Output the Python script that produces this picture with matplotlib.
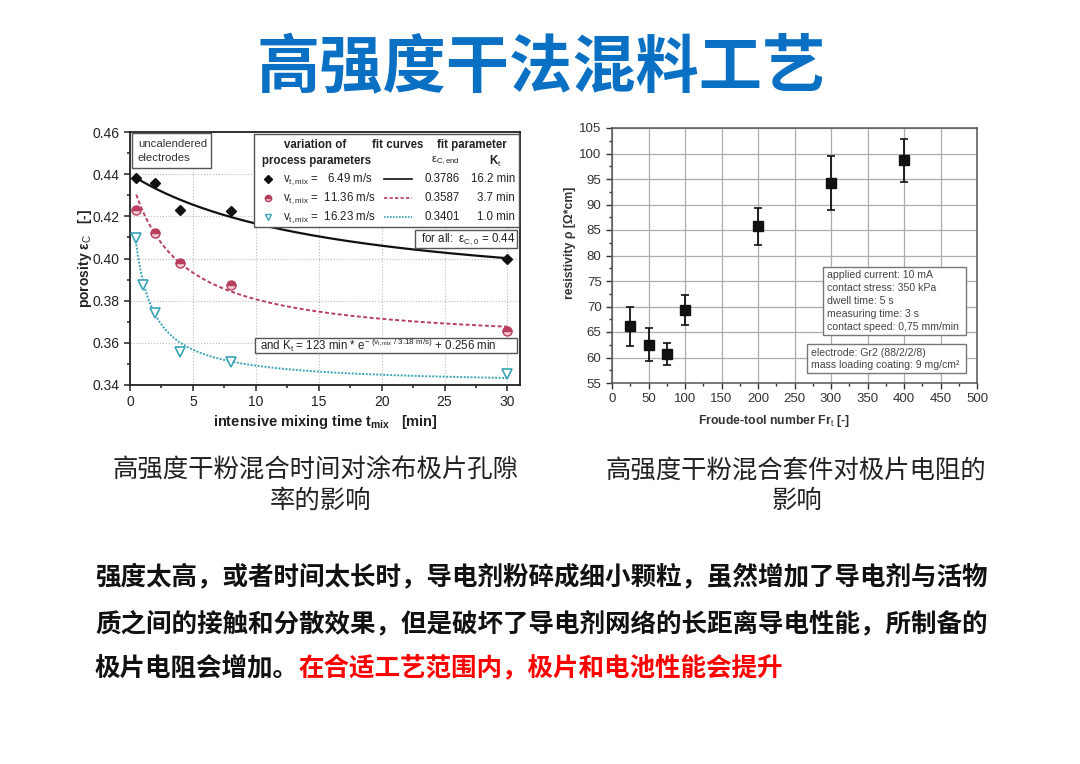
import numpy as np
import matplotlib
matplotlib.use('Agg')
import matplotlib.pyplot as plt
from matplotlib.patches import Rectangle
from matplotlib.ticker import MultipleLocator

plt.rcParams['font.family'] = ['Liberation Sans', 'DejaVu Sans']
plt.rcParams['mathtext.fontset'] = 'custom'
plt.rcParams['mathtext.rm'] = 'Liberation Sans'
plt.rcParams['mathtext.it'] = 'Liberation Sans:italic'
plt.rcParams['mathtext.bf'] = 'Liberation Sans:bold'
CJK = ['Noto Sans CJK SC', 'DejaVu Sans']

# ---- left chart: porosity vs mixing time ----
t_black = [0.5, 2, 4, 8, 30]
eps_black = [0.438, 0.436, 0.4228, 0.4224, 0.3998]
t_red = [0.5, 2, 4, 8, 30]
eps_red = [0.4232, 0.4123, 0.3981, 0.3876, 0.3658]
t_cyan = [0.5, 1, 2, 4, 8, 30]
eps_cyan = [0.4098, 0.3874, 0.3740, 0.3557, 0.3507, 0.3452]

v_labels = ['6.49', '11.36', '16.23']
eps_end = [0.3786, 0.3587, 0.3401]
K_t = [16.2, 3.7, 1.0]
eps_0 = 0.44

# ---- right chart: resistivity vs Froude number ----
froude = [25, 50, 75, 100, 200, 300, 400]
resist = [66.1, 62.5, 60.6, 69.3, 85.7, 94.2, 98.7]
err_low = [62.2, 59.3, 58.5, 66.4, 82.0, 88.9, 94.5]
err_high = [70.0, 65.7, 62.8, 72.2, 89.4, 99.5, 102.8]

fig = plt.figure(figsize=(10.8, 7.64), dpi=100)
W, H = 1080, 764

def ax_rect(x0, y0, x1, y1):
    return [x0 / W, 1 - y1 / H, (x1 - x0) / W, (y1 - y0) / H]

fig.text(541 / W, 1 - 69 / H, '高强度干法混料工艺', family=CJK, fontsize=45.5,
         fontweight='bold', color='#0a70c4', ha='center', va='center')

# ================= left =================
ax1 = fig.add_axes(ax_rect(130, 132, 520, 385))
col_k, col_r, col_c = '#111111', '#b8405e', '#3aa3b5'

tt = np.linspace(0.5, 30, 300)
fit_styles = [(col_k, '-', 1.6), (col_r, (0, (2, 1.3)), 1.4), (col_c, (0, (1, 0.8)), 1.4)]
for e_end, k, (c, ls, lw) in zip(eps_end, K_t, fit_styles):
    ax1.plot(tt, e_end + (eps_0 - e_end) * k / (k + tt), color=c, ls=ls, lw=lw, zorder=2)

ax1.plot(t_black, eps_black, 'D', color=col_k, ms=5.5, zorder=3)
ax1.plot(t_red, eps_red, 'o', ms=6.5, fillstyle='top', mfc=col_r, mfcalt='#f3c8d2',
         mec=col_r, mew=1, zorder=3)
ax1.plot(t_cyan, eps_cyan, 'v', ms=6.5, mfc='white', mec=col_c, mew=1.2, zorder=3)

ax1.set_xlim(0, 31)
ax1.set_ylim(0.34, 0.46)
ax1.xaxis.set_major_locator(MultipleLocator(5))
ax1.xaxis.set_minor_locator(MultipleLocator(2.5))
ax1.yaxis.set_major_locator(MultipleLocator(0.02))
ax1.yaxis.set_minor_locator(MultipleLocator(0.01))
ax1.yaxis.set_major_formatter(plt.FuncFormatter(lambda v, p: '%.2f' % v))
ax1.grid(True, which='major', ls=':', color='#bbbbbb', lw=0.8)
ax1.tick_params(which='both', direction='out', labelsize=10, width=1.1, colors='#222222')
ax1.tick_params(which='major', length=4)
ax1.tick_params(which='minor', length=2.5)
for s in ax1.spines.values():
    s.set_linewidth(1.3)
    s.set_color('#222222')
ax1.set_xlabel(r'intensive mixing time t$_\mathbf{mix}$   [min]', fontsize=10.5,
               fontweight='bold', color='#222222')
ax1.xaxis.set_label_coords(0.5, -0.112)
ax1.set_ylabel(r'porosity ε$_\mathrm{C}$   [-]', fontsize=10, fontweight='bold', color='#222222')
ax1.yaxis.set_label_coords(-0.092, 0.5)

def box(ax, x0, y0, x1, y1, ec='#555555'):
    ax.add_patch(Rectangle((x0, y0), x1 - x0, y1 - y0, transform=ax.transAxes, fc='white',
                           ec=ec, lw=1.0, zorder=5, clip_on=False))

tr = ax1.transAxes
box(ax1, 0.005, 0.858, 0.207, 0.996)
ax1.text(0.020, 0.953, 'uncalendered', transform=tr, fontsize=8.2, color='#333333', va='center', zorder=6)
ax1.text(0.020, 0.897, 'electrodes', transform=tr, fontsize=8.2, color='#333333', va='center', zorder=6)

box(ax1, 0.318, 0.625, 0.997, 0.992)
hk = dict(transform=tr, fontsize=8.3, fontweight='bold', color='#222222', va='center', ha='center', zorder=6)
ax1.text(0.474, 0.949, 'variation of', **hk)
ax1.text(0.687, 0.949, 'fit curves', **hk)
ax1.text(0.877, 0.949, 'fit parameter', **hk)
ax1.text(0.479, 0.885, 'process parameters', **hk)
ax1.text(0.808, 0.885, r'ε$_\mathrm{C,end}$', transform=tr, fontsize=8, color='#222222',
         va='center', ha='center', zorder=6)
ax1.text(0.936, 0.885, r'K$_\mathrm{t}$', **hk)
row_y = [0.814, 0.739, 0.664]
mk = [dict(marker='D', color=col_k, ms=4),
      dict(marker='o', ms=4.5, fillstyle='top', mfc=col_r, mfcalt='#f3c8d2', mec=col_r),
      dict(marker='v', ms=5, mfc='white', mec=col_c)]
for y, v, e_end, k, m, (c, ls, lw) in zip(row_y, v_labels, eps_end, K_t, mk, fit_styles):
    ax1.plot([0.354], [y], transform=tr, ls='none', zorder=6, clip_on=False, **m)
    ax1.text(0.392, y, r'v$_\mathrm{t,mix}$ = %6s m/s' % v, transform=tr, fontsize=8.3,
             color='#222222', va='center', zorder=6)
    ax1.plot([0.651, 0.723], [y, y], transform=tr, color=c, ls=ls, lw=1.2, zorder=6, clip_on=False)
    ax1.text(0.846, y, '%.4f' % e_end, transform=tr, fontsize=8.3, color='#222222',
             va='center', ha='right', zorder=6)
    ax1.text(0.987, y, '%.1f min' % k, transform=tr, fontsize=8.3, color='#222222',
             va='center', ha='right', zorder=6)

box(ax1, 0.731, 0.541, 0.992, 0.613)
ax1.text(0.745, 0.577, r'for all:  ε$_\mathrm{C,0}$ = %.2f' % eps_0, transform=tr, fontsize=8.3,
         color='#222222', va='center', zorder=6)
box(ax1, 0.321, 0.126, 0.992, 0.186)
ax1.text(0.333, 0.156, r'and K$_\mathrm{t}$ = 123 min * e$^{-\ (\mathrm{v_{t,mix}}\ /\ 3.18\ \mathrm{m/s})}$ + 0.256 min',
         transform=tr, fontsize=8.3, color='#222222', va='center', zorder=6)

# ================= right =================
ax2 = fig.add_axes(ax_rect(612, 128, 977, 383))
yerr = [np.array(resist) - np.array(err_low), np.array(err_high) - np.array(resist)]
ax2.errorbar(froude, resist, yerr=yerr, fmt='s', color='#111111', ms=6.5, capsize=3,
             elinewidth=1.3, capthick=1.2, zorder=3)
ax2.set_xlim(0, 500)
ax2.set_ylim(55, 105)
ax2.xaxis.set_major_locator(MultipleLocator(50))
ax2.xaxis.set_minor_locator(MultipleLocator(25))
ax2.yaxis.set_major_locator(MultipleLocator(5))
ax2.yaxis.set_minor_locator(MultipleLocator(2.5))
ax2.grid(True, which='major', color='#adadad', lw=0.9)
ax2.tick_params(which='both', direction='out', labelsize=9.5, colors='#333333', width=1)
ax2.tick_params(which='major', length=4)
ax2.tick_params(which='minor', length=2.5)
for s in ax2.spines.values():
    s.set_color('#555555')
    s.set_linewidth(1.1)
ax2.set_xlabel(r'Froude-tool number Fr$_\mathrm{t}$ [-]', fontsize=8.8, fontweight='bold', color='#333333')
ax2.xaxis.set_label_coords(0.444, -0.117)
ax2.set_ylabel('resistivity ρ [Ω*cm]', fontsize=8.8, fontweight='bold', color='#333333')
ax2.yaxis.set_label_coords(-0.099, 0.55)

tr2 = ax2.transAxes
box(ax2, 0.578, 0.188, 0.970, 0.455, ec='#777777')
info1 = ['applied current: 10 mA', 'contact stress: 350 kPa', 'dwell time: 5 s',
         'measuring time: 3 s', 'contact speed: 0,75 mm/min']
for i, s in enumerate(info1):
    ax2.text(0.590, 0.424 - i * 0.051, s, transform=tr2, fontsize=7.6, color='#444444',
             va='center', zorder=6)
box(ax2, 0.534, 0.039, 0.970, 0.153, ec='#777777')
info2 = ['electrode: Gr2 (88/2/2/8)', 'mass loading coating: 9 mg/cm²']
for i, s in enumerate(info2):
    ax2.text(0.546, 0.118 - i * 0.047, s, transform=tr2, fontsize=7.6, color='#444444',
             va='center', zorder=6)

# ================= captions & body text =================
cap = dict(family=CJK, fontsize=18.3, color='#222222', ha='center', va='center')
fig.text(316 / W, 1 - 471 / H, '高强度干粉混合时间对涂布极片孔隙', **cap)
fig.text(320 / W, 1 - 501 / H, '率的影响', **cap)
fig.text(796 / W, 1 - 471 / H, '高强度干粉混合套件对极片电阻的', **cap)
fig.text(797 / W, 1 - 501 / H, '影响', **cap)

body = dict(family=CJK, fontsize=18.4, fontweight='bold', ha='left', va='center')
fig.text(95 / W, 1 - 577 / H, '强度太高，或者时间太长时，导电剂粉碎成细小颗粒，虽然增加了导电剂与活物',
         color='#111111', **body)
fig.text(95 / W, 1 - 624 / H, '质之间的接触和分散效果，但是破坏了导电剂网络的长距离导电性能，所制备的',
         color='#111111', **body)
fig.text(95 / W, 1 - 668 / H, '极片电阻会增加。', color='#111111', **body)
fig.text(298 / W, 1 - 668 / H, '在合适工艺范围内，极片和电池性能会提升', color='#ff0000', **body)

fig.savefig('out.png', dpi=100)
